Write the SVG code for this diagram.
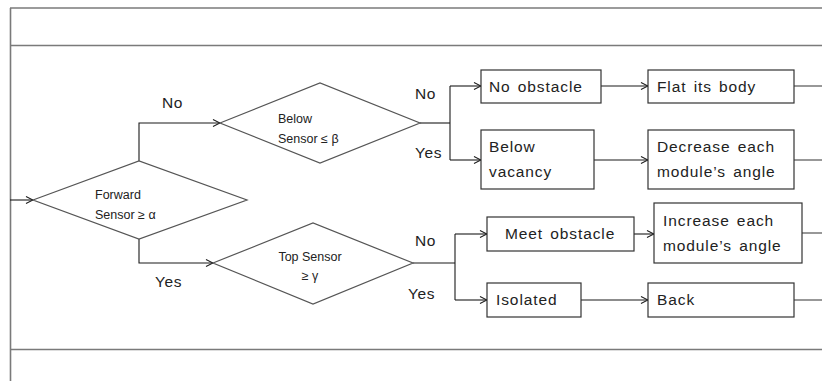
<svg xmlns="http://www.w3.org/2000/svg" width="822" height="381" viewBox="0 0 822 381">
  <style>
    .frame { stroke: #7a7a7a; stroke-width: 1.6; fill: none; }
    .dia { fill: #ffffff; stroke: #555555; stroke-width: 1.2; }
    .box { fill: #ffffff; stroke: #333333; stroke-width: 1.2; }
    .wire { fill: none; stroke: #1a1a1a; stroke-width: 1.1; }
    .wire-out { fill: none; stroke: #444444; stroke-width: 1.1; }
    .dtext { font-family: "Liberation Sans", Arial, sans-serif; font-size: 12.5px; fill: #222; }
    .btext { font-family: "Liberation Sans", Arial, sans-serif; font-size: 15.5px; fill: #222; letter-spacing: 0.9px; word-spacing: 2px; }
    .lbl { font-family: "Liberation Sans", Arial, sans-serif; font-size: 15.5px; fill: #222; letter-spacing: 0.6px; }
  </style>
  <defs>
    <marker id="arrow" markerWidth="9" markerHeight="9" refX="8" refY="4.5" orient="auto" markerUnits="userSpaceOnUse">
      <path d="M1,1 L8,4.5 L1,8" fill="none" stroke="#1a1a1a" stroke-width="1.1"/>
    </marker>
  </defs>

  <rect width="822" height="381" fill="#ffffff"/>

  <!-- page frame -->
  <g id="frame">
    <line class="frame" x1="10" y1="8" x2="822" y2="8"/>
    <line class="frame" x1="10" y1="45.5" x2="822" y2="45.5"/>
    <line class="frame" x1="10" y1="349.5" x2="822" y2="349.5"/>
    <line class="frame" x1="10.5" y1="8" x2="10.5" y2="381"/>
  </g>

  <!-- connectors -->
  <g id="connectors">
    <path class="wire" d="M10,200 H33" marker-end="url(#arrow)"/>
    <path class="wire" d="M139,161 V123 H220" marker-end="url(#arrow)"/>
    <path class="wire" d="M139,239 V263 H213" marker-end="url(#arrow)"/>
    <path class="wire" d="M420,123 H450"/>
    <path class="wire" d="M450,86 V160"/>
    <path class="wire" d="M450,86 H481" marker-end="url(#arrow)"/>
    <path class="wire" d="M450,160 H481" marker-end="url(#arrow)"/>
    <path class="wire" d="M413,263 H455"/>
    <path class="wire" d="M455,234 V300"/>
    <path class="wire" d="M455,234 H487" marker-end="url(#arrow)"/>
    <path class="wire" d="M455,300 H487" marker-end="url(#arrow)"/>
    <path class="wire" d="M601,86 H648" marker-end="url(#arrow)"/>
    <path class="wire" d="M594,160 H648" marker-end="url(#arrow)"/>
    <path class="wire" d="M634,234 H654" marker-end="url(#arrow)"/>
    <path class="wire" d="M581,300 H648" marker-end="url(#arrow)"/>
    <path class="wire-out" d="M794,86 H822"/>
    <path class="wire-out" d="M794,160 H822"/>
    <path class="wire-out" d="M802,233 H822"/>
    <path class="wire-out" d="M794,300 H822"/>
  </g>

  <!-- branch labels -->
  <g id="labels">
    <text class="lbl" x="162" y="108">No</text>
    <text class="lbl" x="155" y="287">Yes</text>
    <text class="lbl" x="415" y="99">No</text>
    <text class="lbl" x="415" y="158">Yes</text>
    <text class="lbl" x="415" y="246">No</text>
    <text class="lbl" x="408" y="299">Yes</text>
  </g>

  <!-- decisions -->
  <g id="forward-sensor">
    <polygon class="dia" points="33,200 139,161 247,200 139,239"/>
    <text class="dtext" x="95" y="199">Forward</text>
    <text class="dtext" x="95" y="219">Sensor ≥ α</text>
  </g>
  <g id="below-sensor">
    <polygon class="dia" points="220,123 320,83 420,123 320,163"/>
    <text class="dtext" x="278" y="123">Below</text>
    <text class="dtext" x="278" y="143">Sensor ≤ β</text>
  </g>
  <g id="top-sensor">
    <polygon class="dia" points="213,263 313,223 413,263 313,304"/>
    <text class="dtext" x="310" y="261" text-anchor="middle">Top Sensor</text>
    <text class="dtext" x="310" y="280" text-anchor="middle">≥ γ</text>
  </g>

  <!-- conditions and actions -->
  <g id="no-obstacle">
    <rect class="box" x="481" y="70" width="120" height="33"/>
    <text class="btext" x="489" y="92">No obstacle</text>
  </g>
  <g id="flat-body">
    <rect class="box" x="648" y="70" width="146" height="33"/>
    <text class="btext" x="657" y="92">Flat its body</text>
  </g>
  <g id="below-vacancy">
    <rect class="box" x="481" y="130" width="113" height="59"/>
    <text class="btext" x="489" y="152">Below</text>
    <text class="btext" x="489" y="177">vacancy</text>
  </g>
  <g id="decrease-angle">
    <rect class="box" x="648" y="130" width="146" height="59"/>
    <text class="btext" x="657" y="152">Decrease each</text>
    <text class="btext" x="657" y="177">module’s angle</text>
  </g>
  <g id="meet-obstacle">
    <rect class="box" x="487" y="217" width="147" height="34"/>
    <text class="btext" x="505" y="239">Meet obstacle</text>
  </g>
  <g id="increase-angle">
    <rect class="box" x="654" y="203" width="148" height="60"/>
    <text class="btext" x="663" y="226">Increase each</text>
    <text class="btext" x="663" y="251">module’s angle</text>
  </g>
  <g id="isolated">
    <rect class="box" x="487" y="283" width="94" height="34"/>
    <text class="btext" x="496" y="305">Isolated</text>
  </g>
  <g id="back">
    <rect class="box" x="648" y="283" width="146" height="34"/>
    <text class="btext" x="657" y="305">Back</text>
  </g>
</svg>
